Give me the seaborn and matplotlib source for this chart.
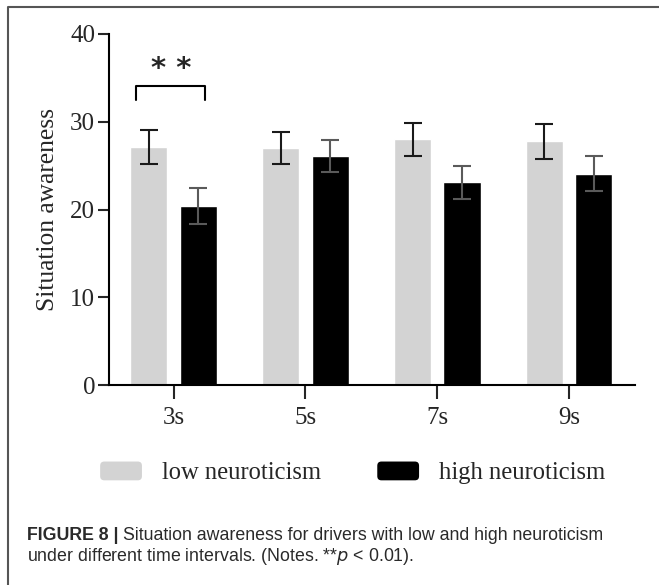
import matplotlib
matplotlib.use("Agg")
import matplotlib.pyplot as plt
import seaborn as sns
import pandas as pd
from matplotlib.patches import Patch, FancyBboxPatch
from matplotlib.lines import Line2D
from matplotlib.legend_handler import HandlerPatch

intervals = ["3s", "5s", "7s", "9s"]
groups = ["low neuroticism", "high neuroticism"]
low_mean = [27.1, 27.0, 28.0, 27.8]
low_err = [1.95, 1.8, 1.9, 2.0]
high_mean = [20.4, 26.1, 23.1, 24.1]
high_err = [2.0, 1.8, 1.9, 2.0]
yticks = [0, 10, 20, 30, 40]

df = pd.DataFrame({
    "interval": intervals * 2,
    "group": [groups[0]] * 4 + [groups[1]] * 4,
    "value": low_mean + high_mean,
})

sns.set_theme(style="white")
plt.rcParams["font.family"] = ["Liberation Serif", "DejaVu Serif"]

W, H = 659, 585
fig = plt.figure(figsize=(W / 100, H / 100), dpi=100)
ax = fig.add_axes([109 / W, 1 - 385 / H, (635 - 109) / W, (385 - 34) / H])

palette = {groups[0]: "#d3d3d3", groups[1]: "#000000"}
sns.barplot(data=df, x="interval", y="value", hue="group", order=intervals,
            hue_order=groups, palette=palette, width=0.75, gap=0.25,
            errorbar=None, legend=False, ax=ax, saturation=1)

errs = {groups[0]: (low_mean, low_err, "#1a1a1a"), groups[1]: (high_mean, high_err, "#5a5a5a")}
patches = list(ax.patches)
for gi, g in enumerate(groups):
    means, es, col = errs[g]
    for i in range(4):
        p = patches[gi * 4 + i]
        xc = p.get_x() + p.get_width() / 2
        ax.errorbar(xc, means[i], yerr=es[i], fmt="none", ecolor=col,
                    elinewidth=1.5, capsize=6.5, capthick=1.5, zorder=5)

ax.set_xlim(-0.49, 3.5)
ax.set_ylim(0, 40)
ax.set_yticks(yticks)
ax.set_yticklabels([str(v) for v in yticks], fontsize=18)
ax.tick_params(axis="x", labelsize=18, length=10, width=1.5, direction="out", pad=6, bottom=True)
ax.tick_params(axis="y", length=8, width=1.5, direction="out", pad=2, left=True)
ax.set_xlabel("")
ax.set_ylabel("Situation awareness", fontsize=18.4, labelpad=8)
for s in ["top", "right"]:
    ax.spines[s].set_visible(False)
for s in ["left", "bottom"]:
    ax.spines[s].set_color("black")
    ax.spines[s].set_linewidth(1.5)

# significance bracket
x0 = patches[0].get_x() + patches[0].get_width() / 2
x1 = patches[4].get_x() + patches[4].get_width() / 2
ax.plot([x0 - 0.1, x0 - 0.1, x1 + 0.05, x1 + 0.05], [32.5, 34.1, 34.1, 32.5],
        color="black", lw=1.5, clip_on=False)
ax.text((x0 + x1) / 2 - 0.02, 36.0, "* *", ha="center", va="center", fontsize=21,
        fontweight="bold", family="DejaVu Sans")


class RoundHandler(HandlerPatch):
    def create_artists(self, legend, orig_handle, xdescent, ydescent, width, height, fontsize, trans):
        p = FancyBboxPatch((-xdescent + 2, -ydescent + 2), width - 4, height - 4,
                           boxstyle="round,pad=2,rounding_size=3",
                           facecolor=orig_handle.get_facecolor(), edgecolor="none",
                           transform=trans)
        return [p]


handles = [Patch(facecolor=palette[g], edgecolor="none") for g in groups]
fig.legend(handles, groups, loc="center", bbox_to_anchor=(0.535, 1 - 473 / H),
           ncol=2, frameon=False, fontsize=17.7, handlelength=1.7, handleheight=0.8,
           columnspacing=2.3, handletextpad=0.8,
           handler_map={Patch: RoundHandler()})

# caption
cap_font = ["Liberation Sans", "DejaVu Sans"]
cap_col = "#2a2a2a"
t1 = fig.text(27 / W, 1 - 540 / H, "FIGURE 8 |", fontsize=12.8, fontweight="bold",
              family=cap_font, va="baseline", color=cap_col)
fig.canvas.draw()
bb = t1.get_window_extent(renderer=fig.canvas.get_renderer())
fig.text(bb.x1 / W + 5 / W, 1 - 540 / H,
         "Situation awareness for drivers with low and high neuroticism",
         fontsize=12.8, family=cap_font, va="baseline", color=cap_col)
fig.text(27 / W, 1 - 561 / H,
         "under different time intervals. (Notes. **$p$ < 0.01).",
         fontsize=12.8, family=cap_font, va="baseline", color=cap_col)

# frame (top and left edges of the surrounding box)
fig.add_artist(Line2D([8 / W, 8 / W, 1.0], [0.0, 1 - 7 / H, 1 - 7 / H],
                      transform=fig.transFigure, color="#555555", lw=1.5))

fig.savefig("out.png", dpi=100)
